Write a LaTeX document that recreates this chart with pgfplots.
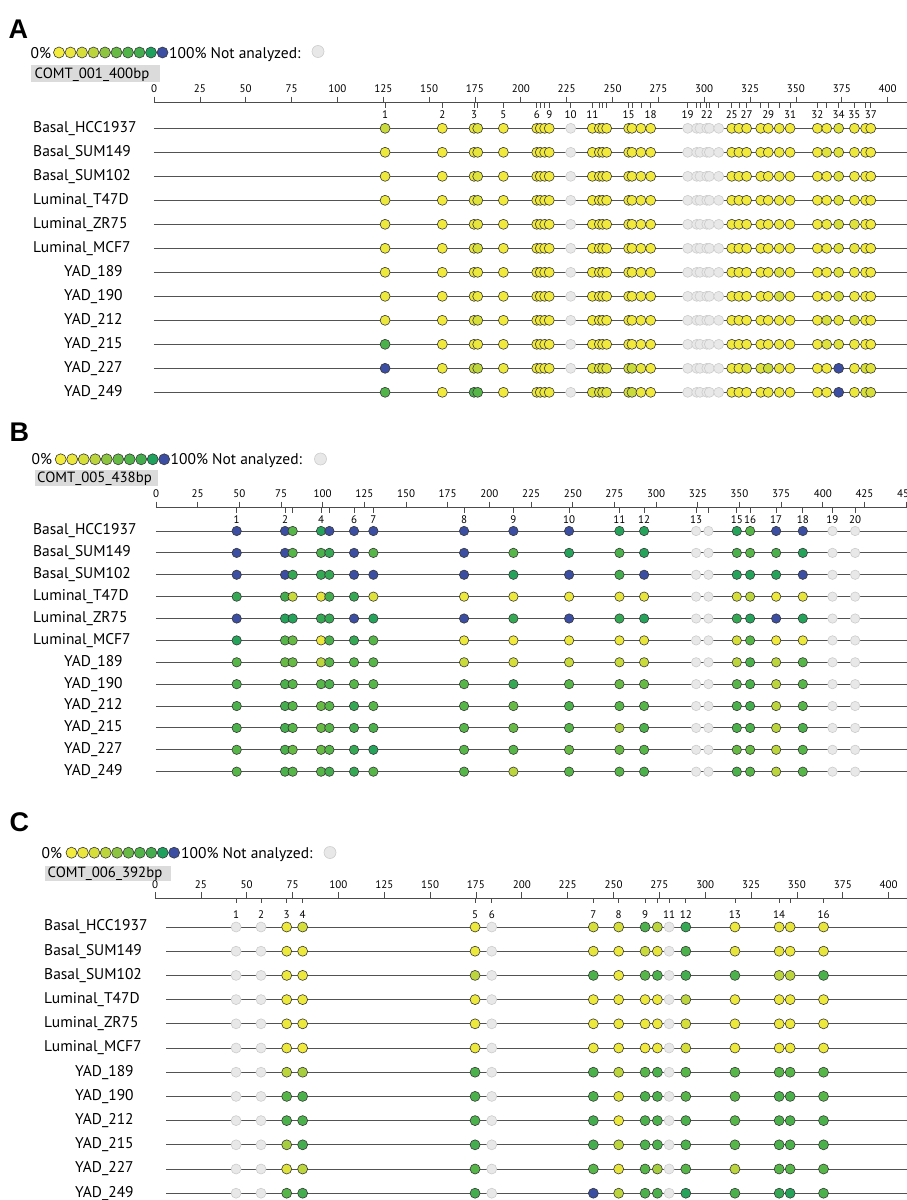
\documentclass[border=0pt]{standalone}
\usepackage{fontspec}
\setmainfont{PT Sans}
\newfontfamily\letterfont{Liberation Sans}
\usepackage{pgfplots}
\usepackage{pgfplotstable}
\pgfplotsset{compat=1.18}

\definecolor{rowgray}{gray}{0.32}
\definecolor{nafill}{gray}{0.91}
\definecolor{nadraw}{gray}{0.80}
\definecolor{boxgray}{gray}{0.86}
\definecolor{dotedge}{gray}{0.22}

\newcommand\lblfont{\fontsize{15.5}{17}\selectfont}
\newcommand\legfont{\fontsize{15.5}{17}\selectfont}
\newcommand\boxfont{\fontsize{14.8}{16}\selectfont}
\newcommand\rulefont{\fontsize{11}{12}\selectfont}
\newcommand\cpgfont{\fontsize{11}{12}\selectfont}
\newcommand\panelfont{\letterfont\bfseries\fontsize{27}{27}\selectfont}
\newcommand\ind{\hspace*{31pt}}

\pgfplotsset{
  colormap={meth}{rgb255(0cm)=(244,236,60) rgb255(12cm)=(236,231,60) rgb255(25cm)=(214,223,58) rgb255(35cm)=(189,213,60) rgb255(45cm)=(141,197,64) rgb255(55cm)=(103,187,69) rgb255(62cm)=(80,180,73) rgb255(70cm)=(68,173,77) rgb255(82cm)=(31,161,94) rgb255(100cm)=(59,78,161)},
  meth dots/.style={scatter, only marks, mark=*, mark size=#1, point meta=explicit, point meta min=0, point meta max=1, colormap name=meth, scatter/use mapped color={draw=dotedge, fill=mapped color, line width=0.6pt}},
  na dots/.style={only marks, mark=*, mark size=#1, mark options={fill=nafill, draw=nadraw, line width=0.6pt}},
  row line/.style={draw=rowgray, line width=0.9pt, mark=none},
  cpg labels/.style={draw=none, mark=none, point meta=explicit symbolic, nodes near coords, nodes near coords align=center, every node near coord/.append style={font=\cpgfont, inner sep=0pt, text=black}},
  ruler/.style={scale only axis, clip=false,
    axis x line=top, axis y line=left,
    x axis line style={-, draw=black!70, line width=0.9pt},
    y axis line style={draw=none},
    xtick align=outside, ytick align=inside,
    major tick length=6pt,
    xtick style={draw=black!70, line width=0.7pt},
    ytick style={draw=none},
    xticklabel style={font=\rulefont, text=black},
    /pgf/number format/assume math mode=true,
    extra x tick style={xtick align=inside, major tick length=5pt},
    extra x tick labels={},
    ytick={-12,-11,...,-1},
    yticklabels={\ind YAD\_249,\ind YAD\_227,\ind YAD\_215,\ind YAD\_212,\ind YAD\_190,\ind YAD\_189,Luminal\_MCF7,Luminal\_ZR75,Luminal\_T47D,Basal\_SUM102,Basal\_SUM149,Basal\_HCC1937},
    yticklabel style={anchor=west, inner sep=0pt, font=\lblfont, text=black},
  },
}

% ---------------- Panel A data (methylation fraction per CpG and sample)
\pgfplotstableread{
x     r1   r2   r3   r4   r5   r6   r7   r8   r9   r10  r11  r12
126.0 0.30 0.10 0.10 0.10 0.10 0.10 0.10 0.10 0.12 0.65 1.00 0.62
157.2 0.05 0.05 0.05 0.05 0.05 0.05 0.05 0.05 0.05 0.05 0.10 0.05
174.5 0.10 0.10 0.10 0.10 0.10 0.10 0.10 0.10 0.15 0.10 0.30 0.65
176.5 0.20 0.15 0.20 0.20 0.15 0.25 0.10 0.10 0.25 0.10 0.35 0.60
190.5 0.05 0.05 0.05 0.05 0.05 0.05 0.05 0.05 0.05 0.05 0.10 0.05
208.7 0.05 0.05 0.05 0.05 0.05 0.05 0.05 0.05 0.05 0.05 0.10 0.10
210.6 0.05 0.05 0.05 0.05 0.05 0.05 0.05 0.05 0.05 0.05 0.10 0.10
213.0 0.05 0.05 0.05 0.05 0.05 0.05 0.05 0.05 0.05 0.05 0.10 0.10
215.5 0.05 0.05 0.05 0.05 0.05 0.05 0.05 0.05 0.05 0.05 0.10 0.10
239.0 0.05 0.05 0.05 0.05 0.05 0.05 0.05 0.05 0.05 0.05 0.20 0.20
242.8 0.05 0.05 0.05 0.05 0.05 0.05 0.05 0.05 0.05 0.05 0.20 0.20
244.6 0.05 0.05 0.05 0.05 0.05 0.05 0.05 0.05 0.05 0.05 0.20 0.20
246.8 0.05 0.05 0.05 0.05 0.05 0.05 0.05 0.05 0.05 0.05 0.20 0.20
258.8 0.05 0.05 0.05 0.05 0.05 0.05 0.05 0.05 0.05 0.05 0.25 0.25
260.6 0.05 0.05 0.05 0.05 0.05 0.05 0.05 0.05 0.05 0.05 0.30 0.30
265.5 0.05 0.05 0.05 0.05 0.05 0.05 0.05 0.05 0.05 0.05 0.15 0.10
270.8 0.05 0.05 0.05 0.05 0.05 0.05 0.05 0.05 0.05 0.05 0.05 0.05
315.0 0.05 0.05 0.05 0.05 0.05 0.05 0.05 0.05 0.05 0.05 0.10 0.05
318.9 0.05 0.05 0.05 0.05 0.05 0.05 0.05 0.05 0.05 0.05 0.10 0.05
323.1 0.05 0.05 0.05 0.05 0.05 0.05 0.05 0.05 0.05 0.05 0.20 0.05
330.8 0.05 0.05 0.05 0.05 0.05 0.05 0.05 0.05 0.05 0.05 0.20 0.05
334.9 0.05 0.05 0.05 0.05 0.05 0.05 0.05 0.05 0.05 0.05 0.30 0.10
340.9 0.10 0.10 0.10 0.10 0.10 0.10 0.20 0.25 0.10 0.10 0.15 0.10
346.8 0.05 0.05 0.05 0.05 0.05 0.05 0.05 0.05 0.05 0.05 0.05 0.05
361.7 0.05 0.05 0.05 0.05 0.05 0.05 0.05 0.05 0.05 0.05 0.05 0.05
366.8 0.05 0.20 0.05 0.05 0.10 0.10 0.05 0.05 0.25 0.20 0.05 0.05
373.3 0.20 0.20 0.20 0.20 0.25 0.20 0.20 0.25 0.15 0.20 1.00 1.00
381.9 0.10 0.10 0.10 0.10 0.20 0.15 0.10 0.10 0.25 0.10 0.10 0.10
388.0 0.05 0.05 0.05 0.05 0.05 0.05 0.05 0.05 0.05 0.05 0.25 0.25
390.8 0.05 0.05 0.05 0.05 0.05 0.05 0.05 0.05 0.05 0.05 0.20 0.25
}\dataA
\pgfplotstableread{
x     d
227.2 0
291.0 0
295.9 0
297.7 0
301.4 0
302.8 0
307.9 0
}\naA

% ---------------- Panel B data
\pgfplotstableread{
x     r1   r2   r3   r4   r5   r6   r7   r8   r9   r10  r11  r12
48.4  1.00 1.00 1.00 0.75 1.00 0.80 0.60 0.65 0.65 0.65 0.60 0.60
77.4  1.00 1.00 1.00 0.70 0.80 0.60 0.55 0.65 0.70 0.70 0.65 0.65
82.0  0.60 0.60 0.75 0.30 0.80 0.55 0.55 0.60 0.60 0.60 0.55 0.60
99.0  0.80 0.65 0.75 0.15 0.75 0.10 0.35 0.60 0.55 0.55 0.55 0.60
104.0 1.00 0.75 0.75 0.70 0.75 0.65 0.60 0.65 0.60 0.60 0.60 0.70
118.8 1.00 1.00 1.00 0.75 1.00 0.75 0.60 0.60 0.75 0.70 0.75 0.75
130.4 1.00 0.60 1.00 0.20 0.80 0.60 0.60 0.60 0.60 0.65 0.80 0.60
184.8 1.00 1.00 1.00 0.10 1.00 0.10 0.30 0.60 0.60 0.60 0.60 0.60
214.4 1.00 0.60 0.80 0.10 0.75 0.05 0.25 0.75 0.55 0.55 0.60 0.35
247.8 1.00 0.80 1.00 0.10 1.00 0.10 0.30 0.60 0.65 0.60 0.55 0.60
278.0 0.80 0.65 0.70 0.15 0.75 0.10 0.30 0.55 0.60 0.40 0.55 0.60
292.8 0.80 0.80 1.00 0.15 0.80 0.15 0.30 0.55 0.60 0.65 0.60 0.65
348.4 0.80 0.65 0.80 0.25 0.75 0.25 0.35 0.60 0.65 0.65 0.55 0.65
356.4 0.60 0.60 0.80 0.35 0.80 0.60 0.65 0.65 0.70 0.65 0.55 0.60
372.0 1.00 0.65 0.80 0.10 1.00 0.05 0.35 0.35 0.35 0.35 0.35 0.35
388.0 1.00 0.80 1.00 0.15 0.80 0.10 0.60 0.60 0.60 0.65 0.60 0.60
}\dataB
\pgfplotstableread{
x     d
324.0 0
331.4 0
405.8 0
419.4 0
}\naB

% ---------------- Panel C data
\pgfplotstableread{
x     r1   r2   r3   r4   r5   r6   r7   r8   r9   r10  r11  r12
71.8  0.10 0.10 0.10 0.10 0.10 0.10 0.35 0.60 0.65 0.40 0.20 0.60
80.5  0.25 0.10 0.10 0.10 0.10 0.05 0.40 0.65 0.65 0.70 0.35 0.70
174.5 0.10 0.10 0.35 0.10 0.10 0.10 0.65 0.65 0.65 0.70 0.60 0.70
239.0 0.25 0.15 0.65 0.10 0.10 0.10 0.65 0.65 0.70 0.70 0.60 1.00
252.8 0.25 0.10 0.10 0.10 0.10 0.10 0.35 0.20 0.10 0.35 0.15 0.35
267.2 0.65 0.30 0.60 0.10 0.10 0.05 0.60 0.65 0.65 0.65 0.60 0.65
273.9 0.35 0.15 0.65 0.10 0.10 0.10 0.65 0.65 0.65 0.65 0.40 0.65
289.4 0.75 0.65 0.70 0.35 0.25 0.25 0.60 0.60 0.65 0.65 0.60 0.80
316.2 0.10 0.15 0.65 0.10 0.10 0.10 0.60 0.60 0.60 0.60 0.35 0.65
340.3 0.15 0.15 0.35 0.10 0.10 0.10 0.60 0.65 0.65 0.65 0.60 0.75
346.3 0.15 0.10 0.35 0.10 0.10 0.10 0.60 0.65 0.65 0.65 0.60 0.80
364.5 0.15 0.15 0.65 0.10 0.10 0.10 0.60 0.60 0.65 0.65 0.60 0.65
}\dataC
\pgfplotstableread{
x     d
44.2  0
57.8  0
183.6 0
280.3 0
}\naC

\begin{document}
\begin{tikzpicture}
% ---------- canvas axis for panel letters, colour key and amplicon names (1 unit = 1pt)
\begin{axis}[hide axis, scale only axis, width=907pt, height=1200pt,
  xmin=0, xmax=907, ymin=-1200, ymax=0, at={(0pt,0pt)}, anchor=north west, clip=false]
  % panel A
  \node[anchor=base west, font=\panelfont, inner sep=0pt] at (axis cs:8.5,-38.3) {A};
  \node[anchor=base west, font=\legfont, inner sep=0pt] at (axis cs:30.5,-58) {0\%};
  \addplot[meth dots=5.5pt] coordinates {(59,-52.5)[0] (70.5,-52.5)[0.12] (82,-52.5)[0.25] (93.5,-52.5)[0.35] (105,-52.5)[0.45] (116.5,-52.5)[0.55] (128,-52.5)[0.62] (139.5,-52.5)[0.70] (151,-52.5)[0.82] (162.5,-52.5)[1]};
  \node[anchor=base west, font=\legfont, inner sep=0pt] at (axis cs:169,-58) {100\% Not analyzed:};
  \addplot[na dots=6pt] coordinates {(318,-51.5)};
  \fill[boxgray] (axis cs:31.3,-65) rectangle (axis cs:159.7,-82);
  \node[anchor=base west, font=\boxfont, inner sep=0pt] at (axis cs:34.5,-78.5) {COMT\_001\_400bp};
  % panel B
  \node[anchor=base west, font=\panelfont, inner sep=0pt] at (axis cs:9.5,-441.7) {B};
  \node[anchor=base west, font=\legfont, inner sep=0pt] at (axis cs:31.5,-464.8) {0\%};
  \addplot[meth dots=5.5pt] coordinates {(60.7,-459.3)[0] (72.2,-459.3)[0.12] (83.7,-459.3)[0.25] (95.2,-459.3)[0.35] (106.7,-459.3)[0.45] (118.2,-459.3)[0.55] (129.7,-459.3)[0.62] (141.2,-459.3)[0.70] (152.7,-459.3)[0.82] (164.2,-459.3)[1]};
  \node[anchor=base west, font=\legfont, inner sep=0pt] at (axis cs:170.5,-464.8) {100\% Not analyzed:};
  \addplot[na dots=6pt] coordinates {(320.5,-459)};
  \fill[boxgray] (axis cs:35,-470) rectangle (axis cs:158.3,-485.7);
  \node[anchor=base west, font=\boxfont, inner sep=0pt] at (axis cs:37,-482) {COMT\_005\_438bp};
  % panel C
  \node[anchor=base west, font=\panelfont, inner sep=0pt] at (axis cs:9.5,-831.7) {C};
  \node[anchor=base west, font=\legfont, inner sep=0pt] at (axis cs:41.5,-858) {0\%};
  \addplot[meth dots=5.5pt] coordinates {(71.5,-852.7)[0] (82.9,-852.7)[0.12] (94.3,-852.7)[0.25] (105.7,-852.7)[0.35] (117.1,-852.7)[0.45] (128.5,-852.7)[0.55] (139.9,-852.7)[0.62] (151.3,-852.7)[0.70] (162.7,-852.7)[0.82] (174.1,-852.7)[1]};
  \node[anchor=base west, font=\legfont, inner sep=0pt] at (axis cs:181,-858) {100\% Not analyzed:};
  \addplot[na dots=6pt] coordinates {(330,-852.5)};
  \fill[boxgray] (axis cs:45,-866) rectangle (axis cs:170.7,-880.5);
  \node[anchor=base west, font=\boxfont, inner sep=0pt] at (axis cs:47.5,-877.5) {COMT\_006\_392bp};
\end{axis}

% ---------- Panel A
\begin{axis}[ruler, at={(154pt,-102.5pt)}, anchor=north west, width=752.9pt, height=301.8pt,
  xmin=0, xmax=410.5, ymin=-12.5, ymax=0.075, xtick={0,25,...,400},
  extra x ticks={126,157.2,174.5,176.5,190.5,208.7,210.6,213.0,215.5,227.2,239.0,242.8,244.6,246.8,258.8,260.6,265.5,270.8,291.0,295.9,297.7,301.4,302.8,307.9,315.0,318.9,323.1,330.8,334.9,340.9,346.8,361.7,366.8,373.3,381.9,388.0,390.8},
  yticklabel style={xshift=-121pt}]
  \pgfplotsinvokeforeach{1,...,12}{\addplot[row line] coordinates {(0,-#1) (410.5,-#1)};}
  \pgfplotsinvokeforeach{1,...,12}{\addplot[meth dots=5pt] table[x=x, y expr=-#1, meta=r#1]{\dataA};}
  \pgfplotsinvokeforeach{1,...,12}{\addplot[na dots=5pt] table[x=x, y expr=-#1]{\naA};}
  \addplot[cpg labels] coordinates {(126,-0.417)[1] (157.2,-0.417)[2] (174.5,-0.417)[3] (190.5,-0.417)[5] (208.7,-0.417)[6] (215.5,-0.417)[9] (227.2,-0.417)[10] (239.0,-0.417)[11] (258.8,-0.417)[15] (270.8,-0.417)[18] (291.0,-0.417)[19] (301.4,-0.417)[22] (315.0,-0.417)[25] (323.1,-0.417)[27] (334.9,-0.417)[29] (346.8,-0.417)[31] (361.7,-0.417)[32] (373.3,-0.417)[34] (381.9,-0.417)[35] (390.8,-0.417)[37]};
\end{axis}

% ---------- Panel B
\begin{axis}[ruler, at={(156pt,-507.5pt)}, anchor=north west, width=751pt, height=275.1pt,
  xmin=0, xmax=450.5, ymin=-12.5, ymax=0.074, xtick={0,25,...,450},
  extra x ticks={48.4,77.4,82.0,99.0,104.0,118.8,130.4,184.8,214.4,247.8,278.0,292.8,324.0,331.4,348.4,356.4,372.0,388.0,405.8,419.4},
  yticklabel style={xshift=-123pt}]
  \pgfplotsinvokeforeach{1,...,12}{\addplot[row line] coordinates {(0,-#1) (450.5,-#1)};}
  \pgfplotsinvokeforeach{1,...,12}{\addplot[meth dots=4.7pt] table[x=x, y expr=-#1, meta=r#1]{\dataB};}
  \pgfplotsinvokeforeach{1,...,12}{\addplot[na dots=4.7pt] table[x=x, y expr=-#1]{\naB};}
  \addplot[cpg labels] coordinates {(48.4,-0.465)[1] (77.4,-0.465)[2] (99.0,-0.465)[4] (118.8,-0.465)[6] (130.4,-0.465)[7] (184.8,-0.465)[8] (214.4,-0.465)[9] (247.8,-0.465)[10] (278.0,-0.465)[11] (292.8,-0.465)[12] (324.0,-0.465)[13] (348.4,-0.465)[15] (356.4,-0.465)[16] (372.0,-0.465)[17] (388.0,-0.465)[18] (405.8,-0.465)[19] (419.4,-0.465)[20]};
\end{axis}

% ---------- Panel C
\begin{axis}[ruler, at={(155pt,-898pt)}, anchor=north west, width=752pt, height=307.3pt,
  xmin=0, xmax=410, ymin=-12.5, ymax=0.198, xtick={0,25,...,400},
  extra x ticks={44.2,57.8,71.8,80.5,174.5,183.6,239.0,252.8,267.2,273.9,280.3,289.4,316.2,340.3,346.3,364.5},
  yticklabel style={xshift=-111pt}]
  \pgfplotsinvokeforeach{1,...,12}{\addplot[row line] coordinates {(6,-#1) (410,-#1)};}
  \pgfplotsinvokeforeach{1,...,12}{\addplot[meth dots=5pt] table[x=x, y expr=-#1, meta=r#1]{\dataC};}
  \pgfplotsinvokeforeach{1,...,12}{\addplot[na dots=5pt] table[x=x, y expr=-#1]{\naC};}
  \addplot[cpg labels] coordinates {(44.2,-0.475)[1] (57.8,-0.475)[2] (71.8,-0.475)[3] (80.5,-0.475)[4] (174.5,-0.475)[5] (183.6,-0.475)[6] (239.0,-0.475)[7] (252.8,-0.475)[8] (267.2,-0.475)[9] (280.3,-0.475)[11] (289.4,-0.475)[12] (316.2,-0.475)[13] (340.3,-0.475)[14] (364.5,-0.475)[16]};
\end{axis}

\pgfresetboundingbox
\path[use as bounding box] (0pt,0pt) rectangle (907pt,-1200pt);
\end{tikzpicture}
\end{document}
